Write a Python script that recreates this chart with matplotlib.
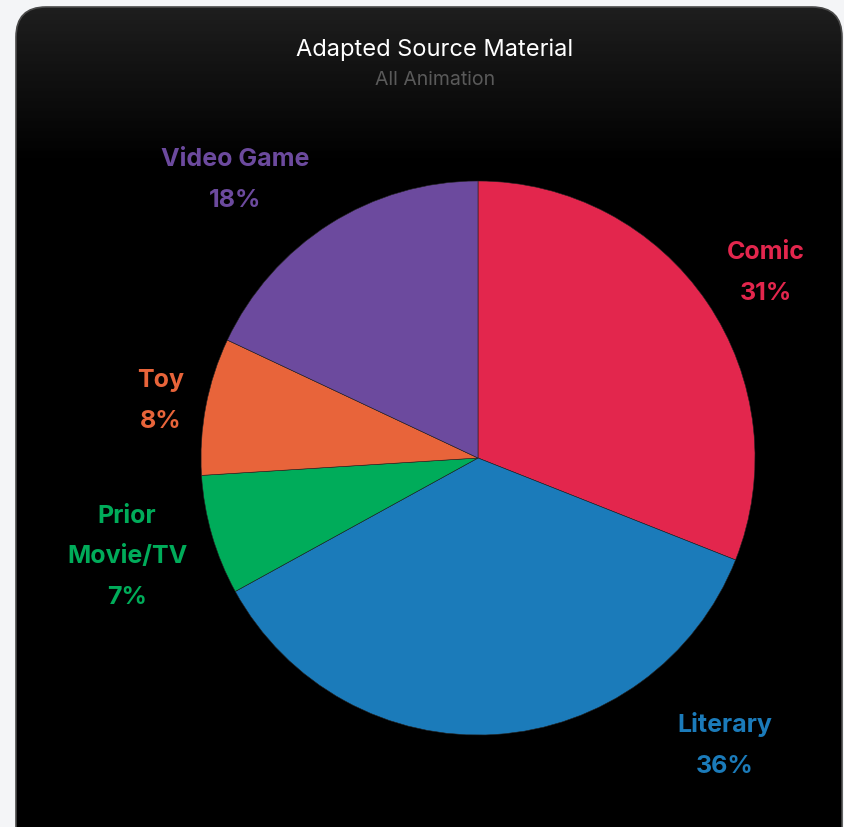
import numpy as np
import matplotlib.pyplot as plt
from matplotlib.patches import FancyBboxPatch

categories = ['Comic', 'Literary', 'Prior\nMovie/TV', 'Toy', 'Video Game']
shares = [31, 36, 7, 8, 18]
colors = ['#E3264D', '#1B7BBA', '#00AC5A', '#E8643A', '#6C4A9E']

# label anchor points (pixels from top-left)
label_xy = [(766, 273), (725, 745), (127, 557), (161, 401), (235, 180)]

W, H = 844, 828
fig = plt.figure(figsize=(W / 100, H / 100), dpi=100, facecolor='#f4f5f7')
ax = fig.add_axes([0, 0, 1, 1])
ax.set_xlim(0, W)
ax.set_ylim(0, H)
ax.set_aspect('equal')
ax.axis('off')

# rounded dark card with a soft grey-to-black fade at the top
card = FancyBboxPatch((16, -40), 826, H - 8 + 40, boxstyle='round,pad=0,rounding_size=30',
                      facecolor='none', edgecolor='#4a4a4a', linewidth=1.2, zorder=2)
ax.add_patch(card)
grad = np.linspace(0, 1, 256).reshape(-1, 1)
grad = np.clip((grad - 0.82) / 0.18, 0, 1)
img = ax.imshow(grad, extent=(16, 842, -40, H - 8), origin='lower', cmap='gray',
                vmin=0, vmax=8.5, aspect='auto', zorder=1)
img.set_clip_path(card)

ax.pie(shares, colors=colors, startangle=90, counterclock=False,
       center=(478, H - 459), radius=277, frame=True,
       wedgeprops=dict(linewidth=0.4, edgecolor='#222222'))
ax.set_xlim(0, W)
ax.set_ylim(0, H)
ax.axis('off')

plt.rcParams['font.family'] = ['Inter', 'DejaVu Sans']
for name, val, col, (px, py) in zip(categories, shares, colors, label_xy):
    ax.text(px, H - py, f'{name}\n{val}%', color=col, fontsize=18, fontweight='bold',
            ha='center', va='center', linespacing=1.95, zorder=5)

ax.text(435, H - 50, 'Adapted Source Material', color='white', fontsize=17,
        ha='center', va='center', zorder=5)
ax.text(435, H - 80, 'All Animation', color='#5a5a5a', fontsize=14,
        ha='center', va='center', zorder=5)

fig.savefig('out.png', dpi=100, facecolor=fig.get_facecolor())
